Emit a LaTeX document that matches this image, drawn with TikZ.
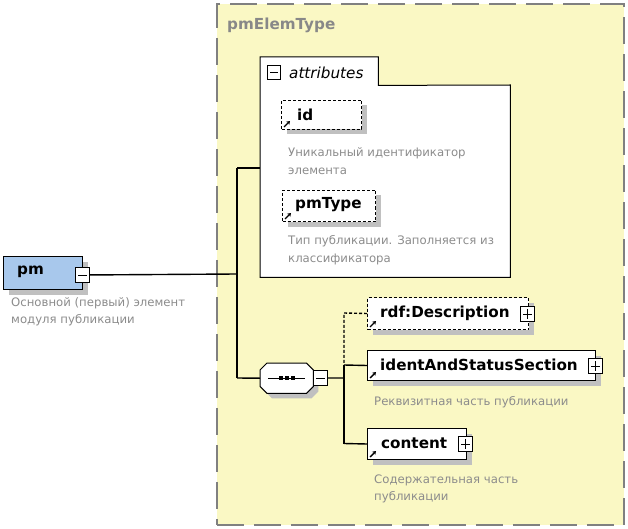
\documentclass[tikz,border=0pt]{standalone}
\usepackage{fontspec}
\setmainfont{DejaVu Sans}
\usetikzlibrary{arrows.meta,shadows}
\definecolor{bgyellow}{RGB}{250,248,196}
\definecolor{pmblue}{RGB}{168,200,236}
\definecolor{shadowgray}{RGB}{192,192,192}
\definecolor{descgray}{RGB}{140,140,140}
\definecolor{bordergray}{RGB}{128,128,128}
\definecolor{titlegray}{RGB}{136,136,136}
\newcommand\minusmark[1]{\draw[line width=0.9pt] ([xshift=3pt]#1.west) -- ([xshift=-3pt]#1.east);}
\newcommand\plusmark[1]{\minusmark{#1}\draw[line width=0.9pt] ([yshift=-3pt]#1.north) -- ([yshift=3pt]#1.south);}
\newcommand\refarrow[1]{\draw[line width=1.4pt,-{Stealth[length=3.5pt,width=4.5pt]}] ([shift={(3,-3)}]#1.south west) -- ++(6,-6);}
\begin{document}
\begin{tikzpicture}[x=1pt,y=-1pt,
  shd/.style={drop shadow={shadow xshift=5pt,shadow yshift=-5pt,fill=shadowgray,opacity=1}},
  elembox/.style={draw=black,line width=1pt,fill=white,inner sep=0pt,anchor=north west},
  dbox/.style={elembox,dash pattern=on 3pt off 2pt},
  pmbox/.style={draw=black,line width=0.9pt,fill=white,inner sep=0pt,anchor=north west,minimum width=14pt,minimum height=15pt},
  lbl/.style={anchor=west,inner sep=0pt,font=\fontsize{15.2}{17}\selectfont\bfseries},
  desc/.style={anchor=west,inner sep=0pt,align=left,text=descgray,font=\fontsize{11.7}{17.5}\selectfont},
  conn/.style={line width=1.4pt,black},
  dconn/.style={conn,dash pattern=on 3pt off 2pt}
]
\useasboundingbox (0,0) rectangle (628,529);
\fill[white] (0,0) rectangle (628,529);

% complex type frame
\node[fill=bgyellow,draw=bordergray,line width=1.6pt,dash pattern=on 27pt off 10pt,inner sep=0pt,anchor=north west,minimum width=407pt,minimum height=521pt] (frame) at (216,3) {};
\node[anchor=west,inner sep=0pt,text=titlegray,font=\fontsize{15.2}{17}\selectfont\bfseries] (title) at (227,25) {pmElemType};

% pm element
\node[elembox,fill=pmblue,shd,minimum width=79pt,minimum height=33pt] (pm) at (3,256) {};
\node[lbl] (pmlbl) at (17,272) {pm};
\node[pmbox] (pmm) at (75,267) {};
\minusmark{pmm}
\node[desc] (pmdesc) at (11,312) {Основной (первый) элемент\\модуля публикации};

% attributes group
\node[inner sep=0pt,anchor=north west,minimum width=250pt,minimum height=192pt] (attr) at (260,85) {};
\node[inner sep=0pt,anchor=north west,minimum width=118pt,minimum height=28pt] (attrtab) at (260,57) {};
\draw[line width=1pt,fill=white] (attr.south west) -- (attrtab.north west) -- (attrtab.north east) -- (attrtab.south east) -- (attr.north east) -- (attr.south east) -- cycle;
\node[pmbox,minimum width=13pt,minimum height=14pt] (attm) at (267,65) {};
\minusmark{attm}
\node[anchor=west,inner sep=0pt,font=\fontsize{15.2}{17}\selectfont\itshape] (attrlbl) at (289,73) {attributes};

\node[dbox,shd,minimum width=80pt,minimum height=29pt] (id) at (281,100) {};
\node[lbl] (idlbl) at (297,115) {id};
\refarrow{id}
\node[desc] (iddesc) at (288,161) {Уникальный идентификатор\\элемента};

\node[dbox,shd,minimum width=93pt,minimum height=31pt] (pmtype) at (282,190) {};
\node[lbl] (pmtypelbl) at (295,205) {pmType};
\refarrow{pmtype}
\node[desc] (pmtypedesc) at (288,250) {Тип публикации. Заполняется из\\классификатора};

% sequence
\node[inner sep=0pt,anchor=north west,minimum width=53pt,minimum height=30pt] (seq) at (260,363) {};
\fill[shadowgray] ([shift={(12,5)}]seq.north west) -- ([shift={(-2,5)}]seq.north east) -- ([shift={(5,12)}]seq.north east) -- ([shift={(5,-2)}]seq.south east) -- ([shift={(-2,5)}]seq.south east) -- ([shift={(12,5)}]seq.south west) -- ([shift={(5,-2)}]seq.south west) -- ([shift={(5,12)}]seq.north west) -- cycle;
\draw[line width=1pt,fill=white] ([xshift=7pt]seq.north west) -- ([xshift=-7pt]seq.north east) -- ([yshift=-7pt]seq.north east) -- ([yshift=7pt]seq.south east) -- ([xshift=-7pt]seq.south east) -- ([xshift=7pt]seq.south west) -- ([yshift=7pt]seq.south west) -- ([yshift=-7pt]seq.north west) -- cycle;
\draw[line width=1.2pt] ([xshift=8pt]seq.west) -- ([xshift=-8pt]seq.east);
\foreach \dx in {-6,0,6} \fill ([xshift=\dx pt]seq.center) ++(-1.8,-1.8) rectangle ++(3.6,3.6);
\node[pmbox] (seqm) at (313,370) {};
\minusmark{seqm}

% children
\node[dbox,shd,minimum width=161pt,minimum height=32pt] (rdf) at (367,297) {};
\node[lbl] (rdflbl) at (380,313) {rdf:Description};
\refarrow{rdf}
\node[pmbox] (rdfp) at (520,306) {};
\plusmark{rdfp}

\node[elembox,shd,minimum width=228pt,minimum height=30pt] (ident) at (367,350) {};
\node[lbl] (identlbl) at (380,365) {identAndStatusSection};
\refarrow{ident}
\node[pmbox] (identp) at (588,358) {};
\plusmark{identp}
\node[desc] (identdesc) at (374,402) {Реквизитная часть публикации};

\node[elembox,shd,minimum width=99pt,minimum height=31pt] (content) at (367,428) {};
\node[lbl] (contentlbl) at (381,443) {content};
\refarrow{content}
\node[pmbox] (contentp) at (458,436) {};
\plusmark{contentp}
\node[desc] (contentdesc) at (374,489) {Содержательная часть\\публикации};

% connectors
\coordinate (jA) at (237,274);
\coordinate (jT) at (237,168);
\coordinate (jB) at (237,378);
\coordinate (kR) at (344,313);
\coordinate (kI) at (344,365);
\coordinate (kS) at (344,378);
\coordinate (kC) at (344,443.5);
\draw[conn] (pmm.east) -- (jA);
\draw[conn] (jT) -- (jB);
\draw[conn] (jT) -- (jT -| attr.west);
\draw[conn] (jB) -- (seq.west);
\draw[conn] (seqm.east) -- (kS);
\draw[dconn] (rdf.west) -- (kR) -- (kI);
\draw[conn] (kI) -- (kC);
\draw[conn] (kI) -- (ident.west);
\draw[conn] (kC) -- (content.west);
\end{tikzpicture}
\end{document}
